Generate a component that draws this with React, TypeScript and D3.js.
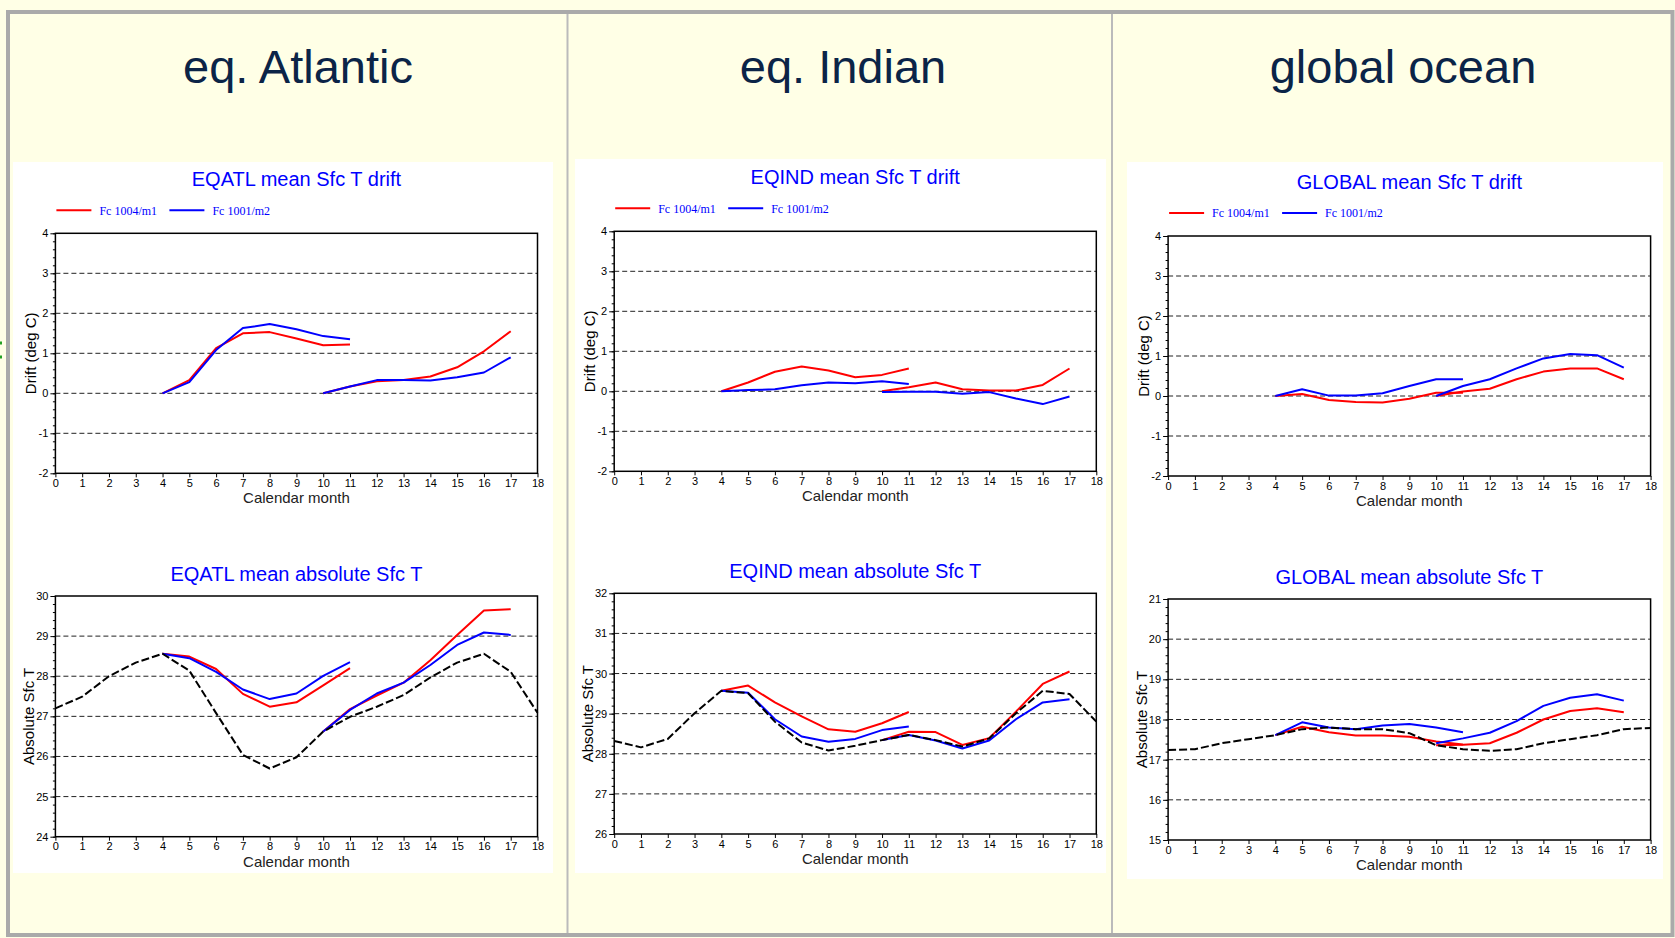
import { useEffect, useRef } from 'react';
import * as d3 from 'd3';

// calendar months on the x axis
const CLIM_MONTHS = [0, 1, 2, 3, 4, 5, 6, 7, 8, 9, 10, 11, 12, 13, 14, 15, 16, 17, 18];
const FC1_MONTHS = [4, 5, 6, 7, 8, 9, 10, 11];
const FC2_MONTHS = [10, 11, 12, 13, 14, 15, 16, 17];
const X_TICKS = [0, 1, 2, 3, 4, 5, 6, 7, 8, 9, 10, 11, 12, 13, 14, 15, 16, 17, 18];

const LEGEND_LABELS = ['Fc 1004/m1', 'Fc 1001/m2'];
const COLUMN_TITLES = ['eq. Atlantic', 'eq. Indian', 'global ocean'];
const REGION_CODES = ['EQATL', 'EQIND', 'GLOBAL'];

const DRIFT_DOMAIN = [-2, 4];
const ABS_DOMAINS = [[24, 30], [26, 32], [15, 21]];

// eq. Atlantic
const atlDriftRed1 = [0, 0.33, 1.13, 1.5, 1.53, 1.37, 1.2, 1.22];
const atlDriftBlue1 = [0, 0.28, 1.08, 1.63, 1.73, 1.6, 1.43, 1.35];
const atlDriftRed2 = [0, 0.17, 0.3, 0.33, 0.42, 0.65, 1.05, 1.55];
const atlDriftBlue2 = [0, 0.17, 0.33, 0.33, 0.32, 0.4, 0.52, 0.9];
const atlClim = [27.2, 27.49, 28.0, 28.34, 28.56, 28.14, 27.08, 26.04, 25.7, 25.98, 26.62, 26.99, 27.24, 27.53, 27.97, 28.34, 28.56, 28.11, 27.09];
const atlAbsRed1 = [28.56, 28.49, 28.18, 27.56, 27.24, 27.35, 27.77, 28.2];
const atlAbsBlue1 = [28.56, 28.45, 28.11, 27.67, 27.43, 27.57, 28.01, 28.35];
const atlAbsRed2 = [26.62, 27.18, 27.52, 27.84, 28.4, 29.03, 29.64, 29.67];
const atlAbsBlue2 = [26.62, 27.16, 27.57, 27.84, 28.28, 28.78, 29.09, 29.03];

// eq. Indian
const indDriftRed1 = [0, 0.22, 0.49, 0.62, 0.52, 0.35, 0.41, 0.57];
const indDriftBlue1 = [0, 0.03, 0.05, 0.15, 0.22, 0.2, 0.25, 0.18];
const indDriftRed2 = [0, 0.1, 0.22, 0.05, 0.02, 0.02, 0.16, 0.57];
const indDriftBlue2 = [-0.02, -0.01, -0.01, -0.06, -0.02, -0.18, -0.32, -0.13];
const indClim = [28.32, 28.16, 28.37, 29.01, 29.57, 29.51, 28.8, 28.28, 28.08, 28.2, 28.34, 28.47, 28.34, 28.18, 28.38, 29.01, 29.57, 29.49, 28.8];
const indAbsRed1 = [29.57, 29.7, 29.28, 28.93, 28.61, 28.55, 28.76, 29.04];
const indAbsBlue1 = [29.57, 29.52, 28.86, 28.43, 28.3, 28.37, 28.59, 28.68];
const indAbsRed2 = [28.34, 28.55, 28.54, 28.22, 28.39, 29.05, 29.74, 30.05];
const indAbsBlue2 = [28.34, 28.47, 28.33, 28.13, 28.33, 28.86, 29.28, 29.36];

// global ocean
const gloDriftRed1 = [0, 0.05, -0.1, -0.15, -0.16, -0.07, 0.08, 0.08];
const gloDriftBlue1 = [0, 0.17, 0.01, 0.01, 0.07, 0.25, 0.42, 0.42];
const gloDriftRed2 = [0, 0.11, 0.18, 0.42, 0.61, 0.69, 0.69, 0.42];
const gloDriftBlue2 = [0, 0.25, 0.42, 0.69, 0.94, 1.05, 1.02, 0.71];
const gloClim = [17.24, 17.26, 17.41, 17.51, 17.61, 17.76, 17.8, 17.76, 17.76, 17.66, 17.36, 17.26, 17.22, 17.26, 17.41, 17.51, 17.61, 17.76, 17.79];
const gloAbsRed1 = [17.61, 17.82, 17.68, 17.6, 17.6, 17.57, 17.45, 17.38];
const gloAbsBlue1 = [17.61, 17.93, 17.8, 17.76, 17.85, 17.89, 17.8, 17.68];
const gloAbsRed2 = [17.36, 17.37, 17.41, 17.67, 18.0, 18.21, 18.28, 18.18];
const gloAbsBlue2 = [17.41, 17.53, 17.67, 17.96, 18.34, 18.54, 18.63, 18.47];

const W = 1675;
const H = 938;
const RED = '#ff0000';
const BLUE = '#0000ff';
const SANS = '"Liberation Sans", Arial, Helvetica, sans-serif';

// layout of the three columns (pixels)
const LAYOUT = [
  { head: 298, panel: [13, 162, 553, 873], x0: 55.4, x1: 537.5, drift: [233.3, 473.3], abs: [596, 836.7] },
  { head: 843, panel: [575, 159, 1106, 873], x0: 614.2, x1: 1096.3, drift: [231.3, 471.3], abs: [593.3, 834] },
  { head: 1403, panel: [1127, 162, 1663, 879], x0: 1168.1, x1: 1650.6, drift: [236, 476], abs: [599, 840] },
];

type Series = { months: number[]; values: number[]; color: string; dash?: string };

function drawPlot(svg: any, o: any) {
  const { x0, x1, y0, y1, domain, title, yLabel, series, legend, absChart } = o;
  const x = d3.scaleLinear().domain([0, 18]).range([x0, x1]);
  const y = d3.scaleLinear().domain(domain).range([y1, y0]);
  const g = svg.append('g');

  // dashed horizontal grid at inner major ticks
  g.selectAll('.grid')
    .data(d3.range(domain[0] + 1, domain[1]))
    .enter()
    .append('line')
    .attr('x1', x0)
    .attr('x2', x1)
    .attr('y1', (d: number) => y(d))
    .attr('y2', (d: number) => y(d))
    .attr('stroke', '#222')
    .attr('stroke-width', 1)
    .attr('stroke-dasharray', '5,3');

  const line = d3
    .line<[number, number]>()
    .x(d => x(d[0]))
    .y(d => y(d[1]));

  series.forEach((s: Series) => {
    g.append('path')
      .attr('d', line(s.months.map((m, i) => [m, s.values[i]] as [number, number])))
      .attr('fill', 'none')
      .attr('stroke', s.color)
      .attr('stroke-width', 2)
      .attr('stroke-linejoin', 'round')
      .attr('stroke-dasharray', s.dash || null);
  });

  // frame
  g.append('rect')
    .attr('x', x0)
    .attr('y', y0)
    .attr('width', x1 - x0)
    .attr('height', y1 - y0)
    .attr('fill', 'none')
    .attr('stroke', '#000')
    .attr('stroke-width', 1.5);

  // y axis: major + minor ticks (plain hyphen for negatives, as in the original)
  const yAxis = g
    .append('g')
    .attr('transform', `translate(${x0},0)`)
    .call(
      d3
        .axisLeft(y)
        .tickValues(d3.range(domain[0], domain[1] + 1))
        .tickFormat((d: any) => String(d))
        .tickSize(5)
        .tickPadding(2)
    );
  yAxis.select('.domain').remove();
  yAxis.selectAll('text').attr('font-family', SANS).attr('font-size', 11).attr('fill', '#000');

  const yMinor = g
    .append('g')
    .attr('transform', `translate(${x0},0)`)
    .call(
      d3
        .axisLeft(y)
        .tickValues(d3.range(domain[0], domain[1] + 0.001, 0.2))
        .tickSize(2.5)
        .tickFormat(() => '')
    );
  yMinor.select('.domain').remove();

  // x axis
  const xAxis = g
    .append('g')
    .attr('transform', `translate(0,${y1})`)
    .call(d3.axisBottom(x).tickValues(X_TICKS).tickSize(4).tickPadding(2));
  xAxis.select('.domain').remove();
  xAxis.selectAll('text').attr('font-family', SANS).attr('font-size', 11).attr('fill', '#000');

  const cx = (x0 + x1) / 2;

  g.append('text')
    .attr('x', cx)
    .attr('y', y1 + 30)
    .attr('text-anchor', 'middle')
    .attr('font-family', SANS)
    .attr('font-size', 15)
    .attr('fill', '#222')
    .text('Calendar month');

  g.append('text')
    .attr('transform', `translate(${x0 - (absChart ? 21 : 19)},${(y0 + y1) / 2}) rotate(-90)`)
    .attr('text-anchor', 'middle')
    .attr('font-family', SANS)
    .attr('font-size', 15)
    .attr('fill', '#000')
    .text(yLabel);

  g.append('text')
    .attr('x', cx)
    .attr('y', absChart ? y0 - 15 : y0 - 47)
    .attr('text-anchor', 'middle')
    .attr('font-family', SANS)
    .attr('font-size', 20)
    .attr('fill', BLUE)
    .text(title);

  if (legend) {
    const ly = y0 - 23;
    [RED, BLUE].forEach((c, i) => {
      const lx = x0 + i * 113;
      g.append('line')
        .attr('x1', lx + 1)
        .attr('x2', lx + 36)
        .attr('y1', ly)
        .attr('y2', ly)
        .attr('stroke', c)
        .attr('stroke-width', 2);
      g.append('text')
        .attr('x', lx + 44)
        .attr('y', ly)
        .attr('dy', '0.35em')
        .attr('font-family', '"Liberation Serif", "Times New Roman", serif')
        .attr('font-size', 12)
        .attr('fill', BLUE)
        .text(LEGEND_LABELS[i]);
    });
  }
}

export default function App() {
  const svgRef = useRef<SVGSVGElement>(null);

  useEffect(() => {
    if (!svgRef.current) return;
    const svg = d3.select(svgRef.current);
    svg.selectAll('*').remove();

    svg.append('rect').attr('width', W).attr('height', H).attr('fill', '#ffffe6');

    // white chart panels
    LAYOUT.forEach(l => {
      svg
        .append('rect')
        .attr('x', l.panel[0])
        .attr('y', l.panel[1])
        .attr('width', l.panel[2] - l.panel[0])
        .attr('height', l.panel[3] - l.panel[1])
        .attr('fill', '#fff');
    });

    // table frame + column dividers
    svg
      .append('rect')
      .attr('x', 8)
      .attr('y', 12)
      .attr('width', 1664.5)
      .attr('height', 923)
      .attr('fill', 'none')
      .attr('stroke', '#aaa')
      .attr('stroke-width', 4);
    [567.5, 1112].forEach(dx => {
      svg
        .append('line')
        .attr('x1', dx)
        .attr('x2', dx)
        .attr('y1', 14)
        .attr('y2', 933)
        .attr('stroke', '#bbb')
        .attr('stroke-width', 2);
    });

    // stray green marks at the left edge
    [343, 357].forEach(gy => {
      svg.append('rect').attr('x', 0).attr('y', gy - 1.5).attr('width', 2).attr('height', 3).attr('fill', '#22a022');
    });

    COLUMN_TITLES.forEach((t, i) => {
      svg
        .append('text')
        .attr('x', LAYOUT[i].head)
        .attr('y', 83)
        .attr('text-anchor', 'middle')
        .attr('font-family', SANS)
        .attr('font-size', 47)
        .attr('fill', '#0b2447')
        .text(t);
    });

    const drift = [
      [atlDriftRed1, atlDriftBlue1, atlDriftRed2, atlDriftBlue2],
      [indDriftRed1, indDriftBlue1, indDriftRed2, indDriftBlue2],
      [gloDriftRed1, gloDriftBlue1, gloDriftRed2, gloDriftBlue2],
    ];
    const abs = [
      [atlAbsRed1, atlAbsBlue1, atlAbsRed2, atlAbsBlue2, atlClim],
      [indAbsRed1, indAbsBlue1, indAbsRed2, indAbsBlue2, indClim],
      [gloAbsRed1, gloAbsBlue1, gloAbsRed2, gloAbsBlue2, gloClim],
    ];

    LAYOUT.forEach((l, i) => {
      const d = drift[i];
      drawPlot(svg, {
        x0: l.x0,
        x1: l.x1,
        y0: l.drift[0],
        y1: l.drift[1],
        domain: DRIFT_DOMAIN,
        title: `${REGION_CODES[i]} mean Sfc T drift`,
        yLabel: 'Drift (deg C)',
        legend: true,
        absChart: false,
        series: [
          { months: FC1_MONTHS, values: d[0], color: RED },
          { months: FC1_MONTHS, values: d[1], color: BLUE },
          { months: FC2_MONTHS, values: d[2], color: RED },
          { months: FC2_MONTHS, values: d[3], color: BLUE },
        ],
      });

      const a = abs[i];
      drawPlot(svg, {
        x0: l.x0,
        x1: l.x1,
        y0: l.abs[0],
        y1: l.abs[1],
        domain: ABS_DOMAINS[i],
        title: `${REGION_CODES[i]} mean absolute Sfc T`,
        yLabel: 'Absolute Sfc T',
        legend: false,
        absChart: true,
        series: [
          { months: FC1_MONTHS, values: a[0], color: RED },
          { months: FC1_MONTHS, values: a[1], color: BLUE },
          { months: FC2_MONTHS, values: a[2], color: RED },
          { months: FC2_MONTHS, values: a[3], color: BLUE },
          { months: CLIM_MONTHS, values: a[4], color: '#000', dash: '8,3' },
        ],
      });
    });
  }, []);

  return (
    <svg
      ref={svgRef}
      width={W}
      height={H}
      style={{ position: 'absolute', left: 0, top: 0, display: 'block' }}
    />
  );
}
